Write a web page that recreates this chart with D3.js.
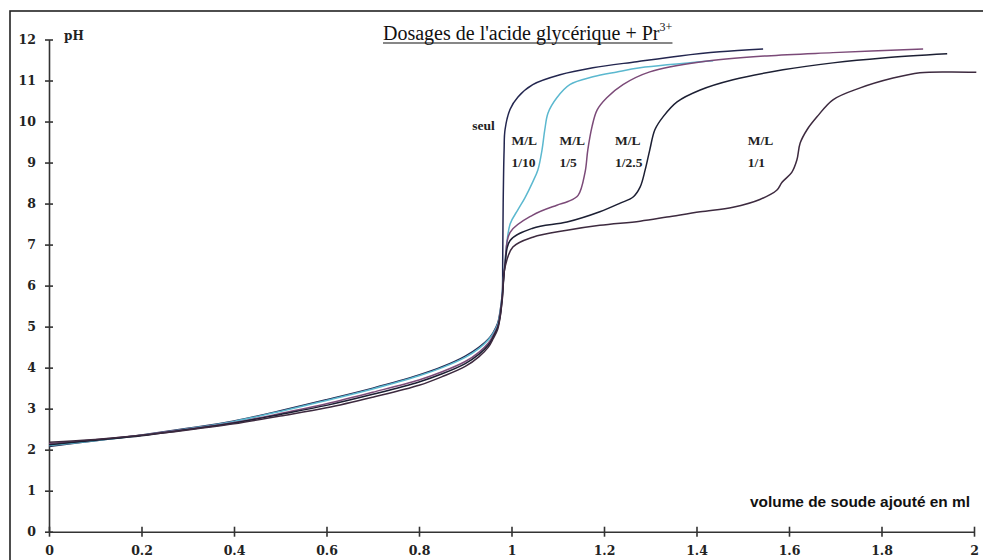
<!DOCTYPE html>
<html>
<head>
<meta charset="utf-8">
<script src="https://cdn.jsdelivr.net/npm/d3@7"></script>
<style>
  html, body { margin: 0; padding: 0; background: #fff; }
  svg { display: block; }
</style>
</head>
<body>
<svg id="chart" width="983" height="560"></svg>
<script>
// ---------- data ----------
const xTicks = [0, 0.2, 0.4, 0.6, 0.8, 1, 1.2, 1.4, 1.6, 1.8, 2];
const yTicks = [0, 1, 2, 3, 4, 5, 6, 7, 8, 9, 10, 11, 12];

const volSeul = [0, 0.1, 0.2, 0.3, 0.4, 0.5, 0.6, 0.7, 0.8, 0.85, 0.9, 0.93, 0.95, 0.96, 0.97, 0.975, 0.98, 0.981, 0.982, 0.984, 0.986, 0.997, 1.014, 1.046, 1.105, 1.176, 1.271, 1.364, 1.45, 1.544];
const phSeul  = [2.08, 2.22, 2.36, 2.52, 2.7, 2.95, 3.22, 3.5, 3.82, 4.02, 4.28, 4.5, 4.7, 4.85, 5.08, 5.35, 5.8, 6.6, 8.0, 9.3, 9.8, 10.3, 10.6, 10.9, 11.14, 11.31, 11.46, 11.6, 11.7, 11.77];

const volM10 = [0, 0.1, 0.2, 0.3, 0.4, 0.5, 0.6, 0.7, 0.8, 0.85, 0.9, 0.93, 0.95, 0.96, 0.97, 0.975, 0.98, 0.986, 0.997, 1.014, 1.029, 1.046, 1.057, 1.066, 1.072, 1.079, 1.098, 1.126, 1.176, 1.228, 1.278, 1.436];
const phM10  = [2.1, 2.22, 2.35, 2.51, 2.69, 2.93, 3.2, 3.48, 3.8, 4.0, 4.25, 4.47, 4.68, 4.83, 5.05, 5.3, 5.8, 6.6, 7.5, 7.85, 8.14, 8.53, 8.82, 9.31, 9.8, 10.21, 10.58, 10.9, 11.09, 11.21, 11.31, 11.48];

const volM5 = [0, 0.1, 0.2, 0.3, 0.4, 0.5, 0.6, 0.7, 0.8, 0.85, 0.9, 0.93, 0.95, 0.96, 0.97, 0.975, 0.98, 0.986, 0.997, 1.046, 1.098, 1.122, 1.144, 1.159, 1.165, 1.174, 1.185, 1.206, 1.241, 1.299, 1.408, 1.552, 1.695, 1.89];
const phM5  = [2.15, 2.24, 2.35, 2.5, 2.66, 2.88, 3.12, 3.4, 3.7, 3.9, 4.15, 4.38, 4.6, 4.78, 5.0, 5.25, 5.75, 6.55, 7.3, 7.72, 7.96, 8.05, 8.2, 8.76, 9.31, 9.87, 10.28, 10.58, 10.9, 11.21, 11.45, 11.6, 11.68, 11.77];

const volM25 = [0, 0.1, 0.2, 0.3, 0.4, 0.5, 0.6, 0.7, 0.8, 0.85, 0.9, 0.93, 0.95, 0.96, 0.97, 0.975, 0.98, 0.986, 0.997, 1.046, 1.12, 1.191, 1.235, 1.263, 1.278, 1.289, 1.299, 1.31, 1.328, 1.358, 1.408, 1.479, 1.587, 1.695, 1.803, 1.942];
const phM25  = [2.12, 2.23, 2.34, 2.49, 2.65, 2.86, 3.08, 3.35, 3.65, 3.85, 4.1, 4.33, 4.55, 4.74, 4.97, 5.22, 5.7, 6.5, 7.1, 7.4, 7.55, 7.8, 8.01, 8.16, 8.4, 8.82, 9.31, 9.8, 10.12, 10.48, 10.77, 11.02, 11.26, 11.43, 11.55, 11.65];

const volM1 = [0, 0.1, 0.2, 0.3, 0.4, 0.5, 0.6, 0.7, 0.8, 0.85, 0.9, 0.93, 0.95, 0.96, 0.97, 0.975, 0.98, 0.986, 1.003, 1.046, 1.12, 1.191, 1.278, 1.336, 1.408, 1.479, 1.537, 1.574, 1.585, 1.606, 1.617, 1.624, 1.639, 1.661, 1.695, 1.754, 1.825, 1.883, 1.948, 2.005];
const phM1  = [2.18, 2.25, 2.35, 2.48, 2.63, 2.82, 3.02, 3.28, 3.57, 3.78, 4.03, 4.27, 4.5, 4.7, 4.93, 5.2, 5.65, 6.45, 6.94, 7.18, 7.35, 7.47, 7.57, 7.67, 7.8, 7.91, 8.1, 8.33, 8.52, 8.76, 9.06, 9.47, 9.8, 10.12, 10.53, 10.82, 11.06, 11.19, 11.21, 11.2];

const seriesNames  = ["seul", "M/L 1/10", "M/L 1/5", "M/L 1/2.5", "M/L 1/1"];
const seriesVols   = [volSeul, volM10, volM5, volM25, volM1];
const seriesPhs    = [phSeul, phM10, phM5, phM25, phM1];
const seriesColors = ["#23264f", "#5bb8cf", "#7b4a78", "#1c1f33", "#3d2a3f"];

// curve labels: [line1, line2, anchor volume, anchor pH]
const labelLines1 = ["seul", "M/L", "M/L", "M/L", "M/L"];
const labelLines2 = ["", "1/10", "1/5", "1/2.5", "1/1"];
const labelVol    = [0.915, 1.0, 1.104, 1.224, 1.511];
const labelPh     = [9.8, 9.43, 9.43, 9.43, 9.43];

const titleMain = "Dosages de l'acide glycérique + Pr";
const titleSup  = "3+";
const yLabel = "pH";
const xLabel = "volume de soude ajouté en ml";

// ---------- layout ----------
const svg = d3.select("#chart");
const x = d3.scaleLinear().domain([0, 2]).range([49, 974]);
const y = d3.scaleLinear().domain([0, 12]).range([531.7, 39.5]);

svg.append("rect").attr("x", 10).attr("y", 11).attr("width", 990).attr("height", 600)
  .attr("fill", "#fff").attr("stroke", "#222").attr("stroke-width", 1.6);

const tickFont = "'DejaVu Serif', serif";

// X axis
const gx = svg.append("g").attr("transform", `translate(0,${y(0)})`)
  .call(d3.axisBottom(x).tickValues(xTicks).tickFormat(d3.format("")).tickSize(5).tickSizeOuter(0).tickPadding(9));
gx.selectAll(".tick line").attr("y1", -5).attr("y2", 5);
// Y axis
const gy = svg.append("g").attr("transform", `translate(${x(0)},0)`)
  .call(d3.axisLeft(y).tickValues(yTicks).tickFormat(d3.format("")).tickSize(4).tickSizeOuter(0).tickPadding(9));
gy.selectAll(".tick line").attr("x1", -4).attr("x2", 4);

[gx, gy].forEach(g => {
  g.select(".domain").attr("stroke", "#333").attr("stroke-width", 1.6);
  g.selectAll(".tick line").attr("stroke", "#333").attr("stroke-width", 1.6);
  g.selectAll(".tick text").attr("font-family", tickFont).attr("font-weight", "bold")
    .attr("font-size", 12.5).attr("fill", "#222");
});

// curves
const line = d3.line().x(d => x(d[0])).y(d => y(d[1])).curve(d3.curveCatmullRom.alpha(0.5));
seriesVols.forEach((vols, i) => {
  const pts = vols.map((v, k) => [v, seriesPhs[i][k]]);
  svg.append("path").datum(pts).attr("d", line)
    .attr("fill", "none").attr("stroke", seriesColors[i]).attr("stroke-width", 1.5)
    .attr("stroke-linejoin", "round");
});

// curve labels
labelLines1.forEach((t, i) => {
  const tx = svg.append("text").attr("x", x(labelVol[i])).attr("y", y(labelPh[i]))
    .attr("font-family", "'Liberation Serif', serif").attr("font-weight", "bold")
    .attr("font-size", 13.5).attr("fill", "#222");
  tx.append("tspan").attr("x", x(labelVol[i])).text(t);
  if (labelLines2[i]) tx.append("tspan").attr("x", x(labelVol[i])).attr("dy", 21.7).text(labelLines2[i]);
});

// pH label
svg.append("text").attr("x", 64).attr("y", 40).text(yLabel)
  .attr("font-family", tickFont).attr("font-weight", "bold").attr("font-size", 12).attr("fill", "#222");

// x axis title
svg.append("text").attr("x", 750).attr("y", 507).text(xLabel)
  .attr("textLength", 220).attr("lengthAdjust", "spacingAndGlyphs")
  .attr("font-family", "'Liberation Sans', Arial, sans-serif").attr("font-weight", "bold")
  .attr("font-size", 15).attr("fill", "#111");

// title
const title = svg.append("text").attr("x", 383).attr("y", 40)
  .attr("font-family", "'Liberation Serif', 'Times New Roman', serif").attr("font-size", 20).attr("fill", "#111");
title.append("tspan").text(titleMain);
title.append("tspan").attr("dy", -9).attr("font-size", 12).text(titleSup);
const tb = title.node().getBBox();
svg.append("line").attr("x1", 383).attr("x2", tb.x + tb.width).attr("y1", 43).attr("y2", 43)
  .attr("stroke", "#111").attr("stroke-width", 1.2);
</script>
</body>
</html>
